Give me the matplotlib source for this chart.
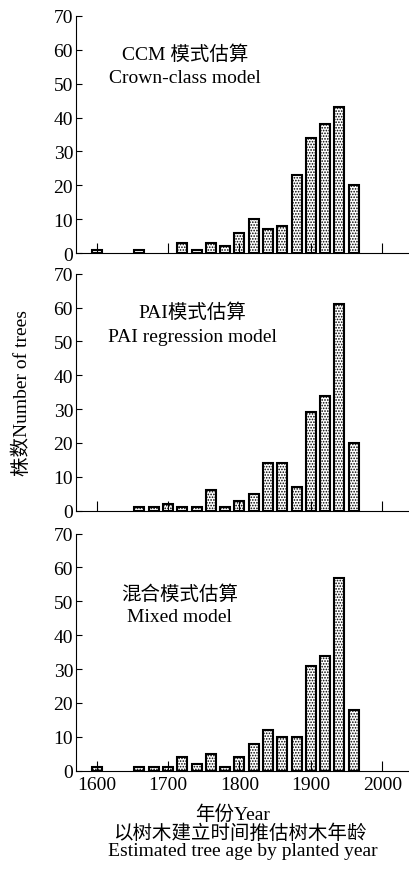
import numpy as np
import matplotlib
matplotlib.use('Agg')
import matplotlib.pyplot as plt

plt.rcParams['font.family'] = ['Liberation Serif', 'Noto Sans CJK SC']
plt.rcParams['hatch.linewidth'] = 0.8

# 20-year classes (bar centres) and tree counts per model
years_ccm = [1600, 1660, 1720, 1740, 1760, 1780, 1800, 1820, 1840, 1860, 1880, 1900, 1920, 1940, 1960]
counts_ccm = [1, 1, 3, 1, 3, 2, 6, 10, 7, 8, 23, 34, 38, 43, 20]

years_pai = [1660, 1680, 1700, 1720, 1740, 1760, 1780, 1800, 1820, 1840, 1860, 1880, 1900, 1920, 1940, 1960]
counts_pai = [1, 1, 2, 1, 1, 6, 1, 3, 5, 14, 14, 7, 29, 34, 61, 20]

years_mix = [1600, 1660, 1680, 1700, 1720, 1740, 1760, 1780, 1800, 1820, 1840, 1860, 1880, 1900, 1920, 1940, 1960]
counts_mix = [1, 1, 1, 1, 4, 2, 5, 1, 4, 8, 12, 10, 10, 31, 34, 57, 18]

panel_titles = [('CCM 模式估算', 'Crown-class model'),
                ('PAI模式估算', 'PAI regression model'),
                ('混合模式估算', 'Mixed model')]
title_pos = [(1724, 58.8, 51.7), (1734, 58.8, 51.4), (1716, 52.3, 45.4)]
year_ticks = [1600, 1700, 1800, 1900, 2000]
count_ticks = [0, 10, 20, 30, 40, 50, 60, 70]

fig = plt.figure(figsize=(4.10, 8.78), dpi=100)
bottoms = [0.7107, 0.4172, 0.1211]
data = [(years_ccm, counts_ccm), (years_pai, counts_pai), (years_mix, counts_mix)]

for i, (yrs, cnt) in enumerate(data):
    ax = fig.add_axes([0.185, bottoms[i], 0.81, 0.27])
    ax.bar(yrs, cnt, width=14, facecolor='white', edgecolor='black',
           linewidth=1.5, hatch='......')
    ax.set_xlim(1571, 2036)
    ax.set_ylim(0, 70)
    ax.set_yticks(count_ticks)
    ax.set_xticks(year_ticks)
    ax.spines['top'].set_visible(False)
    ax.spines['right'].set_visible(False)
    ax.tick_params(axis='y', direction='in', length=4, labelsize=14, pad=2)
    ax.tick_params(axis='x', direction='in', length=7, labelsize=14, pad=4)
    if i < 2:
        ax.tick_params(axis='x', labelbottom=False)
    tx, ty1, ty2 = title_pos[i]
    ax.text(tx, ty1, panel_titles[i][0], ha='center', va='center', fontsize=14)
    ax.text(tx, ty2, panel_titles[i][1], ha='center', va='center', fontsize=14)

fig.text(0.054, 0.552, '株数Number of trees', rotation=90, ha='center', va='center', fontsize=14)
fig.text(0.568, 0.0718, '年份Year', ha='center', va='center', fontsize=14)
fig.text(0.585, 0.050, '以树木建立时间推估树木年龄', ha='center', va='center', fontsize=14)
fig.text(0.593, 0.030, 'Estimated tree age by planted year', ha='center', va='center', fontsize=14)

fig.savefig('out.png', dpi=100)
